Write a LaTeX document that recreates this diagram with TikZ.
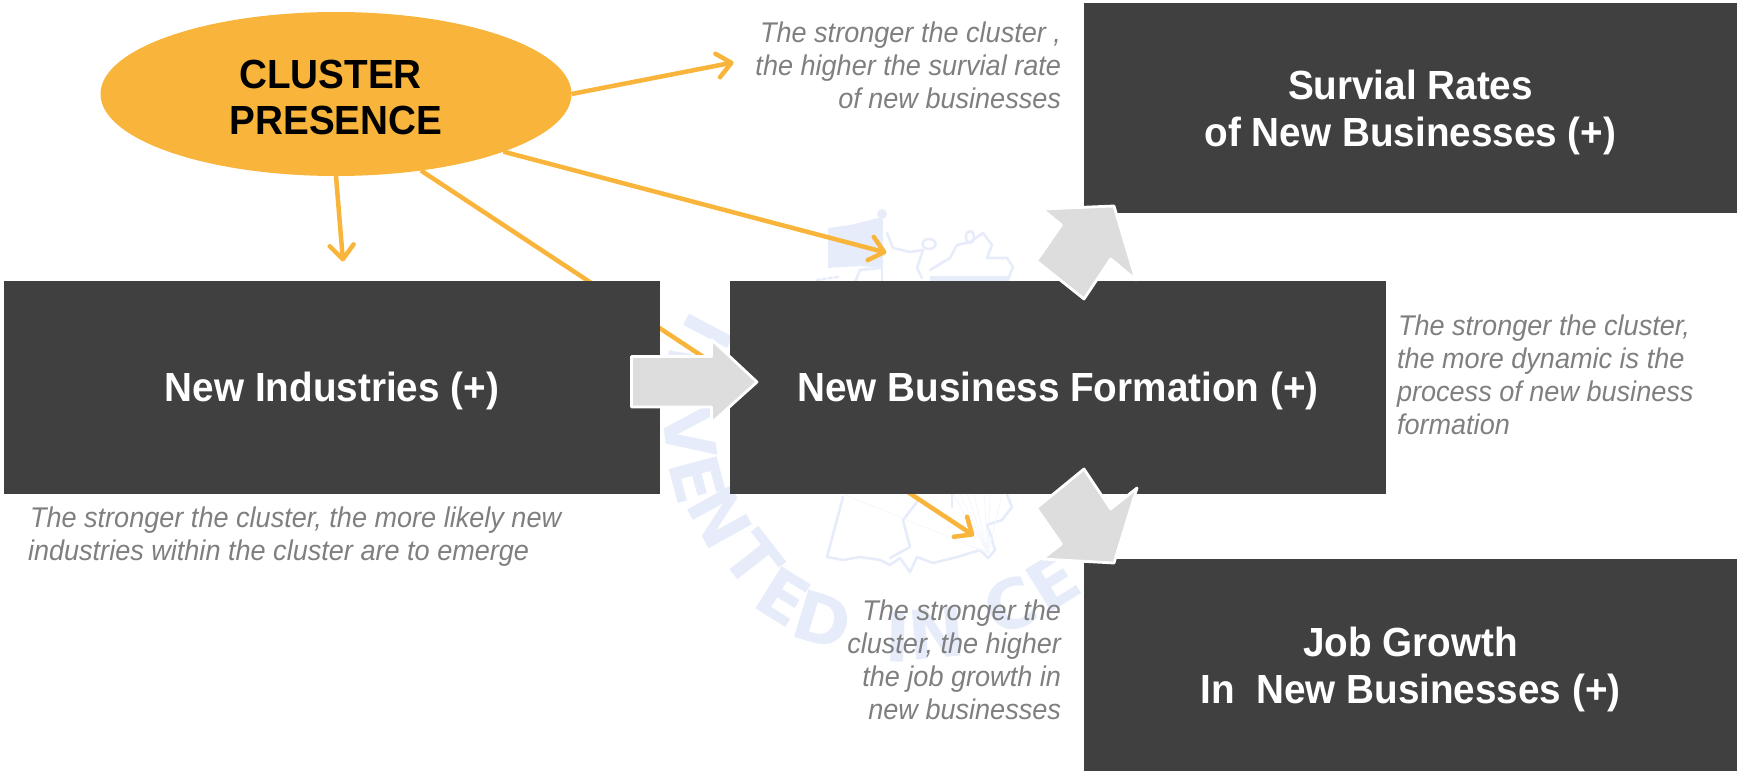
\documentclass[tikz,border=0pt]{standalone}
\usepackage{fontspec}
\setmainfont{Liberation Sans}[FakeStretch=0.95]
\newfontfamily\wmfont{DejaVu Sans}
\usetikzlibrary{arrows.meta,shapes.geometric}
\definecolor{boxgray}{HTML}{404040}
\definecolor{amber}{HTML}{F9B53B}
\definecolor{notegray}{HTML}{7F7F7F}
\definecolor{blockgray}{HTML}{DDDDDD}
\definecolor{wmblue}{HTML}{E6ECF9}
\definecolor{wmfaint}{HTML}{F3F6FC}
\tikzset{
  bigbox/.style={rectangle,fill=boxgray,text=white,inner sep=0pt,outer sep=0pt,align=center,text depth=0pt,
    font=\fontsize{40.7}{46.5}\selectfont\bfseries},
  note/.style={inner sep=0pt,outer sep=0pt,text=notegray,font=\fontsize{28.5}{32.8}\selectfont\itshape},
  link/.style={draw=amber,line width=4.5pt,-{Straight Barb[length=14pt,width=24pt,line width=4.5pt,round]}},
  blockarrow/.style={fill=blockgray,draw=white,line width=2.8pt,line join=round},
  wmline/.style={draw=wmblue,line width=2.6pt,line join=round,line cap=round},
  wmray/.style={draw=wmfaint,line width=0.8pt},
  wmletter/.style={inner sep=0pt,text=wmblue,font=\fontsize{68}{68}\selectfont\wmfont\bfseries}
}
\begin{document}
\begin{tikzpicture}[x=1pt,y=-1pt]
\useasboundingbox (0,0) rectangle (1737,771);
% watermark lettering
\foreach \ch/\px/\py/\th in {I/708/331/208,N/690/377/190,V/690/433/172,E/697/480/165,N/720/517/151,T/753/560/142,E/783/597/122,D/823/620/107,I/898/637/92,N/937/633/85,C/1010/605/68,E/1053/582/58}{
  \node[wmletter,rotate={90-\th}] (wm\px) at (\px,\py) {\ch};
}
% watermark map
\fill[wmblue] (828,228) -- (850,225) -- (882,217) -- (882,268) -- (860,266) -- (828,268) -- cycle;
\fill[wmblue] (882,214) circle (5);
\draw[wmline] (882,214) -- (882,282);
\draw[wmline] (887,233) -- (893,248) -- (910,252) -- (923,250);
\draw[wmline] (929,244) ellipse (6.5 and 5);
\draw[wmline] (923,250) -- (917,268) -- (922,278);
\draw[wmline] (930,270) -- (950,258) -- (957,245) -- (970,242) -- (983,233) -- (992,245) -- (987,258) -- (1007,258) -- (1013,267) -- (1007,282);
\draw[wmline] (970,237) ellipse (4 and 6);
\draw[wmline] (855,282) -- (860,270) -- (880,268);
\draw[wmline,dashed] (817,280) -- (838,277);
\fill[wmblue] (930,276) rectangle (1008,283);
\draw[wmline] (843,497) -- (827,557) -- (843,560) -- (860,557) -- (880,560) -- (890,565) -- (900,558) -- (910,572) -- (917,557) -- (933,563) -- (957,557) -- (980,550) -- (988,558) -- (995,550) -- (990,533) -- (987,525) -- (1002,520) -- (1012,507) -- (1007,495);
\draw[wmline] (917,502) -- (903,520) -- (910,547) -- (890,558);
\draw[wmline] (952,494) -- (952,507);
\foreach \xx in {843,953,960,967,974,984,990,1002}{\draw[wmray] (988,553) -- (\xx,494);}
% nodes
\node[ellipse,fill=amber,inner sep=0pt,outer sep=0pt,minimum width=471pt,minimum height=164pt,align=center,text=black,text height=81pt,text depth=0pt,
  font=\fontsize{40.7}{46}\selectfont\bfseries] (cp) at (336,94) {CLUSTER\hspace*{11pt}\\PRESENCE};
\coordinate (tipa) at (733.6,62.4);
\coordinate (tipb) at (343,261.5);
\coordinate (tipc) at (886.4,252.7);
\coordinate (tipd) at (974,535.7);
\draw[link] (cp.east) -- (tipa);
\draw[link] (cp.south) -- (tipb);
\draw[link] (cp.-19.4) -- (tipc);
\draw[link] (cp.-42.5) -- (tipd);
\node[bigbox,minimum width=656pt,minimum height=213pt] (ni) at (332,387.2) {New Industries (+)};
\node[bigbox,minimum width=656pt,minimum height=213pt] (nb) at (1058,387.2) {New Business Formation (+)};
\node[bigbox,minimum width=653pt,minimum height=210.5pt] (sr) at (1410.5,108.2) {Survial Rates\\of New Businesses (+)};
\node[bigbox,minimum width=653pt,minimum height=212pt] (jg) at (1410.5,665) {Job Growth\\In\ \ New Businesses (+)};
% block arrows
\draw[blockarrow] (631.5,356.5) -- (711.5,356.5) -- (711.5,339.5) -- (757,382) -- (711.5,423) -- (711.5,407) -- (631.5,407) -- cycle;
\draw[blockarrow] (1084,299) -- (1036.4,261) -- (1061.4,225) -- (1042,209) -- (1114,206) -- (1136,280) -- (1110.7,259) -- cycle;
\draw[blockarrow] (1084,469) -- (1036.4,508) -- (1061.4,544) -- (1042,559) -- (1114,563) -- (1137,488) -- (1110.7,509) -- cycle;
% notes
\node[note,align=right,anchor=north east] (na) at (1061,22) {The stronger the cluster ,\\the higher the survial rate\\of new businesses};
\node[note,align=left,anchor=north west] (nc) at (28,507) {\hspace*{2pt}The stronger the cluster, the more likely new\\industries within the cluster are to emerge};
\node[note,align=left,anchor=north west] (nd) at (1397,315) {\hspace*{1pt}The stronger the cluster,\\the more dynamic is the\\process of new business\\formation};
\node[note,align=right,anchor=north east] (ne) at (1061,600) {The stronger the\\cluster, the higher\\the job growth in\\new businesses};
\end{tikzpicture}
\end{document}
